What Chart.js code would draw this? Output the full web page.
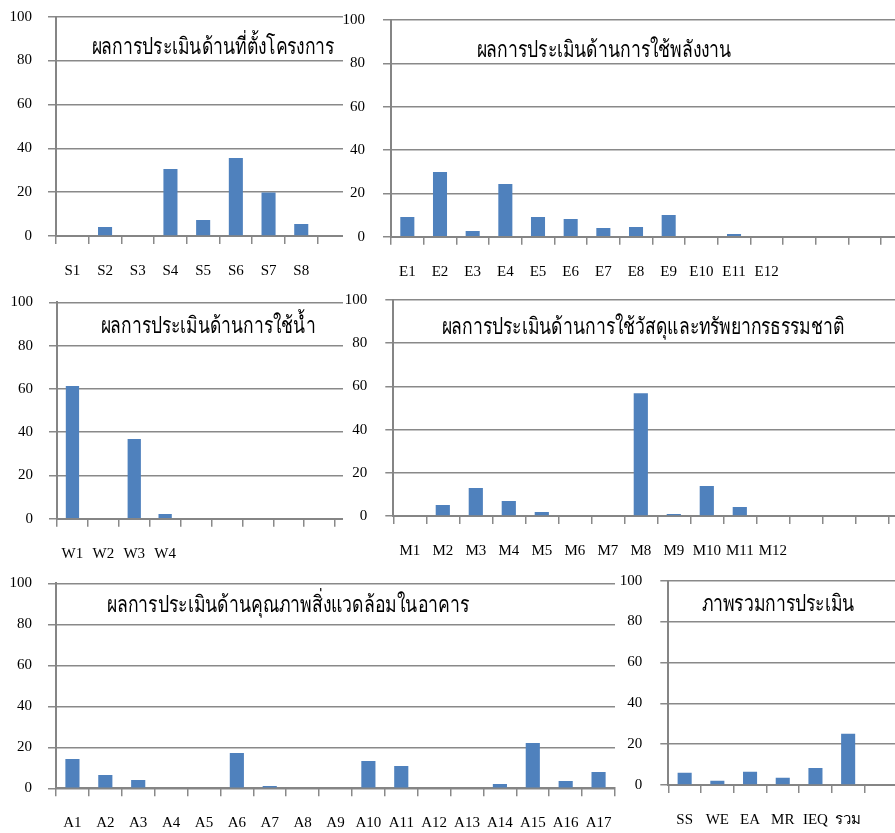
<!DOCTYPE html>
<html>
<head>
<meta charset="utf-8">
<script src="https://cdn.jsdelivr.net/npm/chart.js@4.4.0/dist/chart.umd.min.js"></script>
<style>
body { margin: 0; background: #fff; width: 895px; height: 833px; overflow: hidden; position: relative; }
.box { position: absolute; overflow: hidden; background: #fff; }
.box canvas { position: absolute; left: 0; top: 0; }
.ttl { position: absolute; font-family: "Liberation Serif", serif; font-size: 23px; color: #000;
       white-space: nowrap; transform: translate(-50%, -50%); }
</style>
</head>
<body>
<script>
var barColor = '#4F81BD';
var gridColor = '#898989';
var axisColor = '#858585';

// ที่ตั้งโครงการ
var siteTitle = 'ผลการประเมินด้านที่ตั้งโครงการ';
var siteLabels = ['S1', 'S2', 'S3', 'S4', 'S5', 'S6', 'S7', 'S8', ''];
var siteValues = [0, 4.1, 0, 30.5, 7.3, 35.6, 19.8, 5.5, null];

// พลังงาน
var energyTitle = 'ผลการประเมินด้านการใช้พลังงาน';
var energyLabels = ['E1', 'E2', 'E3', 'E4', 'E5', 'E6', 'E7', 'E8', 'E9', 'E10', 'E11', 'E12', '', '', '', ''];
var energyValues = [9.1, 29.9, 2.6, 24.3, 9.1, 8.2, 4.0, 4.5, 10.0, 0, 1.2, 0, null, null, null, null];

// น้ำ
var waterTitle = 'ผลการประเมินด้านการใช้น้ำ';
var waterLabels = ['W1', 'W2', 'W3', 'W4', '', '', '', '', '', ''];
var waterValues = [61.3, 0, 36.8, 2.2, null, null, null, null, null, null];

// วัสดุ
var materialTitle = 'ผลการประเมินด้านการใช้วัสดุและทรัพยากรธรรมชาติ';
var materialLabels = ['M1', 'M2', 'M3', 'M4', 'M5', 'M6', 'M7', 'M8', 'M9', 'M10', 'M11', 'M12', '', '', '', ''];
var materialValues = [0, 5.1, 13.0, 6.9, 1.9, 0, 0, 56.8, 0.9, 13.9, 4.2, 0, null, null, null, null];

// คุณภาพสิ่งแวดล้อมในอาคาร
var ieqTitle = 'ผลการประเมินด้านคุณภาพสิ่งแวดล้อมในอาคาร';
var ieqLabels = ['A1', 'A2', 'A3', 'A4', 'A5', 'A6', 'A7', 'A8', 'A9', 'A10', 'A11', 'A12', 'A13', 'A14', 'A15', 'A16', 'A17'];
var ieqValues = [14.3, 6.5, 4.1, 0, 0, 17.2, 1.1, 0, 0, 13.3, 10.9, 0, 0, 2.1, 22.1, 3.6, 8.0];

// ภาพรวม
var totalTitle = 'ภาพรวมการประเมิน';
var totalLabels = ['SS', 'WE', 'EA', 'MR', 'IEQ', 'รวม', ''];
var totalValues = [6.0, 2.1, 6.5, 3.6, 8.3, 25.1, null];

var yTicks = [0, 20, 40, 60, 80, 100];

function drawPanel(labels, values, title, b) {
    var box = document.createElement('div');
    box.className = 'box';
    box.style.left = b.left + 'px';
    box.style.top = b.top + 'px';
    box.style.width = b.width + 'px';
    box.style.height = b.height + 'px';
    document.body.appendChild(box);

    var cw = Math.ceil(b.plotRight) + 1;
    var cv = document.createElement('canvas');
    cv.width = cw;
    cv.height = b.height;
    cv.style.width = cw + 'px';
    cv.style.height = b.height + 'px';
    box.appendChild(cv);

    // title squeezed to the narrow width of the original Thai face
    var t = document.createElement('div');
    t.className = 'ttl';
    t.textContent = title;
    t.style.left = b.titleX + 'px';
    t.style.top = b.titleY + 'px';
    box.appendChild(t);
    var k = b.titleW / t.offsetWidth;
    t.style.transform = 'translate(-50%, -50%) scaleX(' + k + ')';

    var font = { family: '"Liberation Serif", serif', size: 15 };

    new Chart(cv, {
        type: 'bar',
        data: {
            labels: labels,
            datasets: [{
                data: values,
                backgroundColor: barColor,
                barPercentage: 0.43,
                categoryPercentage: 1
            }]
        },
        options: {
            responsive: false,
            animation: false,
            devicePixelRatio: 1,
            layout: { padding: { top: b.plotTop, left: 0, right: cw - b.plotRight, bottom: 0 } },
            plugins: { legend: { display: false }, tooltip: { enabled: false } },
            scales: {
                x: {
                    ticks: { autoSkip: false, maxRotation: 0, color: '#000', font: font, padding: 18 },
                    grid: { offset: true, drawOnChartArea: false, tickLength: 8, color: gridColor, lineWidth: 1.5 },
                    border: { color: axisColor, width: 2 },
                    afterFit: function (s) {
                        s.height = b.height - b.plotBottom;
                        s.paddingLeft = 0;
                        s.paddingRight = 0;
                    }
                },
                y: {
                    min: 0, max: 100,
                    afterBuildTicks: function (s) { s.ticks = yTicks.map(function (v) { return { value: v }; }); },
                    ticks: { color: '#000', font: font, padding: b.tickPad },
                    grid: { color: gridColor, lineWidth: 1.5, tickLength: 8 },
                    border: { color: axisColor, width: 2 },
                    afterFit: function (s) {
                        s.width = b.plotLeft;
                        s.paddingTop = 0;
                        s.paddingBottom = 0;
                    }
                }
            }
        }
    });
}

drawPanel(siteLabels, siteValues, siteTitle,
    { left: 0, top: 0, width: 343, height: 290, plotLeft: 56, plotRight: 350.3, plotTop: 16.7, plotBottom: 236, tickPad: 16, titleX: 213, titleY: 46, titleW: 243 });
drawPanel(energyLabels, energyValues, energyTitle,
    { left: 343, top: 0, width: 552, height: 290, plotLeft: 48, plotRight: 570.7, plotTop: 20, plotBottom: 236.7, tickPad: 18, titleX: 261, titleY: 49, titleW: 255 });
drawPanel(waterLabels, waterValues, waterTitle,
    { left: 0, top: 290, width: 343, height: 270, plotLeft: 57, plotRight: 366, plotTop: 12.3, plotBottom: 228.7, tickPad: 16, titleX: 207.5, titleY: 35, titleW: 215 });
drawPanel(materialLabels, materialValues, materialTitle,
    { left: 343, top: 290, width: 552, height: 265, plotLeft: 50.3, plotRight: 578.3, plotTop: 10, plotBottom: 226, tickPad: 18, titleX: 300, titleY: 36, titleW: 403 });
drawPanel(ieqLabels, ieqValues, ieqTitle,
    { left: 0, top: 560, width: 618, height: 273, plotLeft: 56, plotRight: 615, plotTop: 23.3, plotBottom: 228.3, tickPad: 16, titleX: 287.5, titleY: 44, titleW: 362 });
drawPanel(totalLabels, totalValues, totalTitle,
    { left: 618, top: 555, width: 277, height: 278, plotLeft: 50.3, plotRight: 279.2, plotTop: 25.7, plotBottom: 230, tickPad: 18, titleX: 160, titleY: 48, titleW: 153 });
</script>
</body>
</html>
